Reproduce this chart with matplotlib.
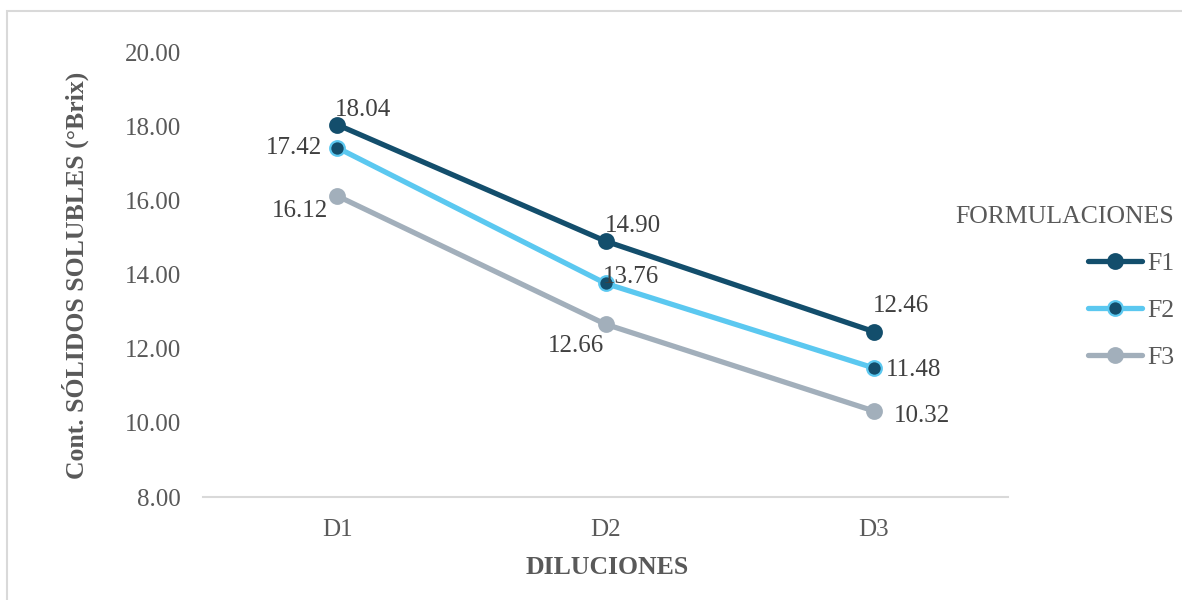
import matplotlib
matplotlib.use("Agg")
import matplotlib.pyplot as plt
from matplotlib.patches import Rectangle

# Data
diluciones = ["D1", "D2", "D3"]
f1 = [18.04, 14.90, 12.46]
f2 = [17.42, 13.76, 11.48]
f3 = [16.12, 12.66, 10.32]
series_names = ["F1", "F2", "F3"]
y_ticks = [8, 10, 12, 14, 16, 18, 20]

# Label offsets in pixels (dx, dy) for each series/point
label_offsets = [
    [(26, 15), (27, 15), (27, 26)],
    [(-43, 0), (25, 6), (40, -2)],
    [(-37, -15), (-30, -22), (48, -5)],
]

plt.rcParams["font.family"] = ["Liberation Serif", "DejaVu Serif"]

dpi = 100
fig = plt.figure(figsize=(11.82, 6.0), dpi=dpi)
W, H = 1182, 600
ax = fig.add_axes([203 / W, 103 / H, (1008 - 203) / W, (497 - 52) / H])

dark = "#134E6C"
light = "#5BC8F0"
gray = "#A2AFBB"
styles = [
    dict(color=dark, mfc=dark, mec=dark),
    dict(color=light, mfc=dark, mec=light),
    dict(color=gray, mfc=gray, mec=gray),
]

x = list(range(len(diluciones)))
for vals, name, st, offs in zip([f1, f2, f3], series_names, styles, label_offsets):
    ax.plot(x, vals, marker="o", lw=3.8, ms=10.5, mew=1.6, solid_capstyle="round",
            label=name, **st)
    for xi, v, (dx, dy) in zip(x, vals, offs):
        ax.annotate(f"{v:.2f}", (xi, v), xytext=(dx * 72 / dpi, dy * 72 / dpi),
                    textcoords="offset points", ha="center", va="center",
                    fontsize=18, color="#404040")

ax.set_xlim(-0.5, len(diluciones) - 0.5)
ax.set_ylim(8, 20)
ax.set_xticks(x)
ax.set_xticklabels(diluciones)
ax.set_yticks(y_ticks)
ax.set_yticklabels([f"{t:.2f}" for t in y_ticks])
ax.tick_params(axis="both", length=0, labelsize=18, labelcolor="#595959")
ax.tick_params(axis="y", pad=16)
ax.tick_params(axis="x", pad=16)

for side in ["top", "right", "left"]:
    ax.spines[side].set_visible(False)
ax.spines["bottom"].set_color("#D9D9D9")
ax.spines["bottom"].set_linewidth(1.5)

fig.text(607 / W, 1 - 567 / H, "DILUCIONES", ha="center", va="center",
         fontsize=18.5, fontweight="bold", color="#595959")
fig.text(75 / W, 1 - 275 / H, "Cont. SÓLIDOS SOLUBLES (°Brix)", ha="center",
         va="center", rotation=90, fontsize=18.5, fontweight="bold", color="#595959")

leg = fig.legend(loc="upper right", bbox_to_anchor=(1192 / W, 1 - 188 / H),
                 title="FORMULACIONES", frameon=False, fontsize=18.5,
                 title_fontsize=18.5, alignment="right", handlelength=2.1,
                 handletextpad=0.2, labelspacing=0.93, borderpad=0.2)
leg.get_title().set_color("#595959")
for t in leg.get_texts():
    t.set_color("#595959")

# Outer chart border
fig.patches.append(Rectangle((7 / W, -0.1), 1.2, 1.1 - 11.5 / H,
                             transform=fig.transFigure, fill=False,
                             edgecolor="#D9D9D9", lw=1.5))

fig.savefig("out.png", dpi=dpi)
